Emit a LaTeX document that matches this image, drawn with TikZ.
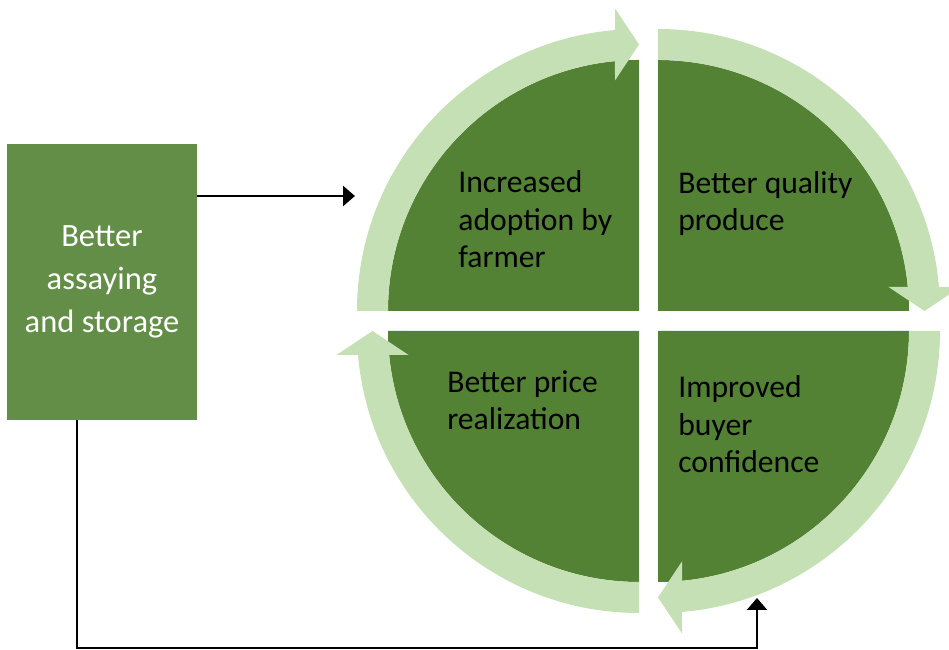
\documentclass[tikz,border=0pt]{standalone}
\usepackage{fontspec}
\setmainfont{Carlito}
\usetikzlibrary{arrows.meta}
\definecolor{quadgreen}{HTML}{548235}
\definecolor{bandgreen}{HTML}{C5E0B4}
\definecolor{boxgreen}{HTML}{628E47}
\def\quarterdisc(#1)(#2){\fill[quadgreen, shift={(#1)}, rotate=#2] (0,0) -- (-5.02,0) arc[start angle=180, end angle=90, radius=5.02] -- cycle;}
\def\bandarrow(#1)(#2){\fill[bandgreen, shift={(#1)}, rotate=#2] (-5.64,0) arc[start angle=180, end angle=94.88, radius=5.64] -- (-0.48,6.05) -- (0,5.33) -- (-0.48,4.61) -- (95.49:5.02) arc[start angle=95.49, end angle=180, radius=5.02] -- cycle;}
\tikzset{
	assaybox/.style={fill=boxgreen, text=white, align=center, inner sep=0pt, minimum width=3.8cm, minimum height=5.52cm, font=\fontsize{18.5}{24.5}\selectfont},
	quadtext/.style={anchor=base west, align=left, inner sep=0pt, font=\fontsize{18}{21.6}\selectfont},
	feed/.style={line width=1.3pt, -{Triangle[length=0.24cm, width=0.4cm]}}
}

\begin{document}
\begin{tikzpicture}
			%%%%% START %%%%%
			\useasboundingbox (0, 0) rectangle (18.98, 13);
			
			% quarters of the cycle
			\quarterdisc(12.78, 6.78)(0);
			\quarterdisc(13.16, 6.78)(-90);
			\quarterdisc(13.16, 6.38)(-180);
			\quarterdisc(12.78, 6.38)(-270);
			
			\bandarrow(12.78, 6.78)(0);
			\bandarrow(13.16, 6.78)(-90);
			\bandarrow(13.16, 6.38)(-180);
			\bandarrow(12.78, 6.38)(-270);
			
			% base = last line of each text
			\node[quadtext] (adopt) at (9.16, 7.64) {Increased\\adoption by\\farmer};
			\node[quadtext] (quality) at (13.56, 8.38) {Better quality\\produce};
			\node[quadtext] (buyer) at (13.56, 3.54) {Improved\\buyer\\confidence};
			\node[quadtext] (price) at (8.94, 4.40) {Better price\\realization};
			
			% box on the left
			\node[assaybox] (assay) at (2.04, 7.36) {Better\\assaying\\and storage};
			
			\coordinate (adoptin) at (7.10, 9.08);
			\coordinate (loopfoot) at (1.54, 0.04);
			\coordinate (loopend) at (15.14, 1.04);
			
			\draw[feed] (assay.east |- adoptin) -- (adoptin);
			\draw[feed] (loopfoot |- assay.south) -- (loopfoot) -| (loopend);
			
			%%%%% END %%%%%
\end{tikzpicture}
\end{document}
